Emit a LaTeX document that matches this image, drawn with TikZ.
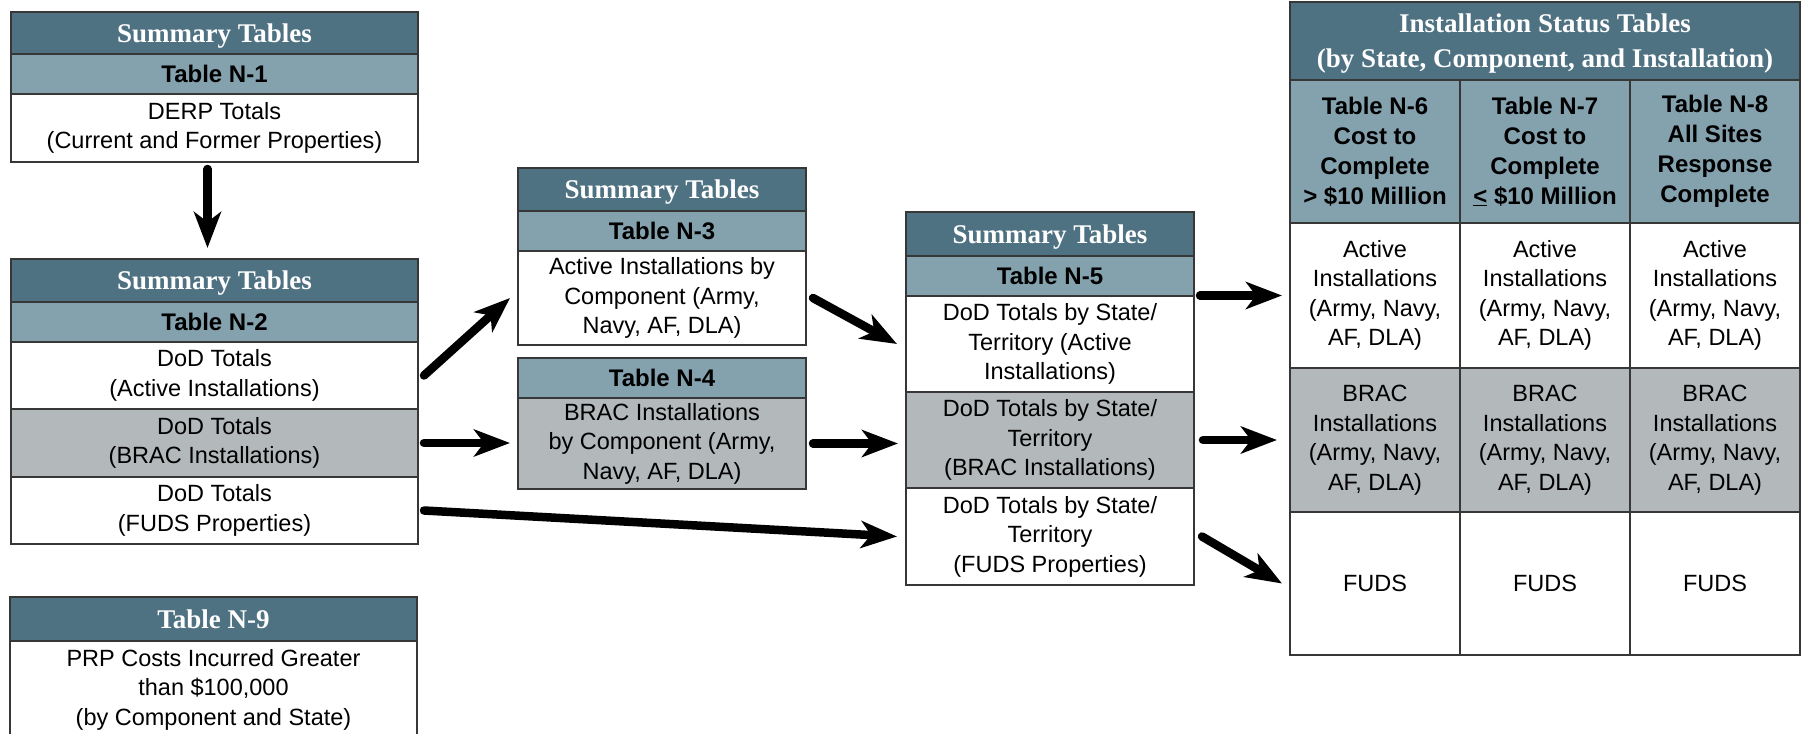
\documentclass[tikz,border=0pt]{standalone}
\usepackage{fontspec}
\setmainfont{Liberation Sans}
\newfontfamily\hdfont{Liberation Serif}
\usetikzlibrary{arrows.meta,calc}
\definecolor{hdrc}{RGB}{79,114,130}
\definecolor{bandc}{RGB}{132,161,174}
\definecolor{grayc}{RGB}{179,184,186}
\definecolor{bordc}{RGB}{55,55,55}
\newcommand\mkcell[7]{\node[#2, minimum width={#5-#3}, minimum height={#6-#4}] (#1) at ({(#3+#5)/2},{(#4+#6)/2}) {#7};}
\begin{document}
\begin{tikzpicture}[x=1pt,y=-1pt,
 cellbase/.style={draw=bordc, line width=1.8pt, inner sep=0pt, outer sep=0pt, align=center, anchor=center},
 hdr/.style={cellbase, fill=hdrc, text=white, font=\hdfont\bfseries\fontsize{27}{35}\selectfont, text depth=0pt},
 band/.style={cellbase, fill=bandc, font=\bfseries\fontsize{24}{30}\selectfont},
 wcell/.style={cellbase, fill=white, font=\fontsize{23.5}{29.5}\selectfont},
 gcell/.style={wcell, fill=grayc},
 arr/.style={line width=8.5pt, line cap=round, -{Stealth[length=36pt,width=27pt,inset=10pt]}}]
\useasboundingbox (0,0) rectangle (1811,733);
% Box N-1
\mkcell{n1h}{hdr}{11}{12}{418}{54}{Summary Tables}
\mkcell{n1t}{band}{11}{54}{418}{94}{Table N-1}
\mkcell{n1b}{wcell}{11}{94}{418}{162}{DERP Totals\\(Current and Former Properties)}
% Box N-2
\mkcell{n2h}{hdr}{11}{259}{418}{302}{Summary Tables}
\mkcell{n2t}{band}{11}{302}{418}{342}{Table N-2}
\mkcell{n2a}{wcell}{11}{342}{418}{409}{DoD Totals\\(Active Installations)}
\mkcell{n2r}{gcell}{11}{409}{418}{477}{DoD Totals\\(BRAC Installations)}
\mkcell{n2f}{wcell}{11}{477}{418}{544}{DoD Totals\\(FUDS Properties)}
% Box N-9
\mkcell{n9h}{hdr}{10}{597}{417}{641}{Table N-9}
\mkcell{n9b}{wcell}{10}{641}{417}{738}{PRP Costs Incurred Greater\\than \$100,000\\(by Component and State)}
% Box N-3
\mkcell{n3h}{hdr}{518}{168}{806}{211}{Summary Tables}
\mkcell{n3t}{band}{518}{211}{806}{251}{Table N-3}
\mkcell{n3b}{wcell}{518}{251}{806}{345}{Active Installations by\\Component (Army,\\Navy, AF, DLA)}
% Box N-4
\mkcell{n4t}{band}{518}{358}{806}{398}{Table N-4}
\mkcell{n4b}{gcell}{518}{398}{806}{489}{BRAC Installations\\by Component (Army,\\Navy, AF, DLA)}
% Box N-5
\mkcell{n5h}{hdr}{906}{212}{1194}{256}{Summary Tables}
\mkcell{n5t}{band}{906}{256}{1194}{296}{Table N-5}
\mkcell{n5a}{wcell}{906}{296}{1194}{392}{DoD Totals by State/\\Territory (Active\\Installations)}
\mkcell{n5r}{gcell}{906}{392}{1194}{488}{DoD Totals by State/\\Territory\\(BRAC Installations)}
\mkcell{n5f}{wcell}{906}{488}{1194}{585}{DoD Totals by State/\\Territory\\(FUDS Properties)}
% Installation status table
\mkcell{th}{hdr}{1290}{2}{1800}{80}{Installation Status Tables\\(by State, Component, and Installation)}
\mkcell{t1t}{band}{1290}{80}{1460}{223}{Table N-6\\Cost to\\Complete\\> \$10 Million}
\mkcell{t2t}{band}{1460}{80}{1630}{223}{Table N-7\\Cost to\\Complete\\\underline{<} \$10 Million}
\mkcell{t3t}{band}{1630}{80}{1800}{223}{Table N-8\\All Sites\\Response\\Complete}
\mkcell{t1a}{wcell}{1290}{223}{1460}{368}{Active\\Installations\\(Army, Navy,\\AF, DLA)}
\mkcell{t2a}{wcell}{1460}{223}{1630}{368}{Active\\Installations\\(Army, Navy,\\AF, DLA)}
\mkcell{t3a}{wcell}{1630}{223}{1800}{368}{Active\\Installations\\(Army, Navy,\\AF, DLA)}
\mkcell{t1r}{gcell}{1290}{368}{1460}{512}{BRAC\\Installations\\(Army, Navy,\\AF, DLA)}
\mkcell{t2r}{gcell}{1460}{368}{1630}{512}{BRAC\\Installations\\(Army, Navy,\\AF, DLA)}
\mkcell{t3r}{gcell}{1630}{368}{1800}{512}{BRAC\\Installations\\(Army, Navy,\\AF, DLA)}
\mkcell{t1f}{wcell}{1290}{512}{1460}{655}{FUDS}
\mkcell{t2f}{wcell}{1460}{512}{1630}{655}{FUDS}
\mkcell{t3f}{wcell}{1630}{512}{1800}{655}{FUDS}
% Arrows
\draw[arr] ($(n1b.south)+(-7,7)$) -- ($(n2h.north)+(-7,-11)$);
\draw[arr] ($(n2a.east)+(6,0)$) -- ($(n3b.west)+(-8,0)$);
\draw[arr] ($(n2r.east)+(6,0)$) -- ($(n4b.west |- n2r.east)+(-8,0)$);
\draw[arr] ($(n2f.east)+(6,0)$) -- ($(n5f.west)+(-9,0)$);
\draw[arr] ($(n3b.east)+(7,0)$) -- ($(n5a.west)+(-9,0)$);
\draw[arr] ($(n4b.east)+(7,0)$) -- ($(n5r.west |- n4b.east)+(-8,0)$);
\draw[arr] ($(n5a.east |- t1a.west)+(6,0)$) -- ($(t1a.west)+(-8,0)$);
\draw[arr] ($(n5r.east |- t1r.west)+(9,0)$) -- ($(t1r.west)+(-13,0)$);
\draw[arr] ($(n5f.east)+(8,0)$) -- ($(t1f.west)+(-8,0)$);
\end{tikzpicture}
\end{document}
